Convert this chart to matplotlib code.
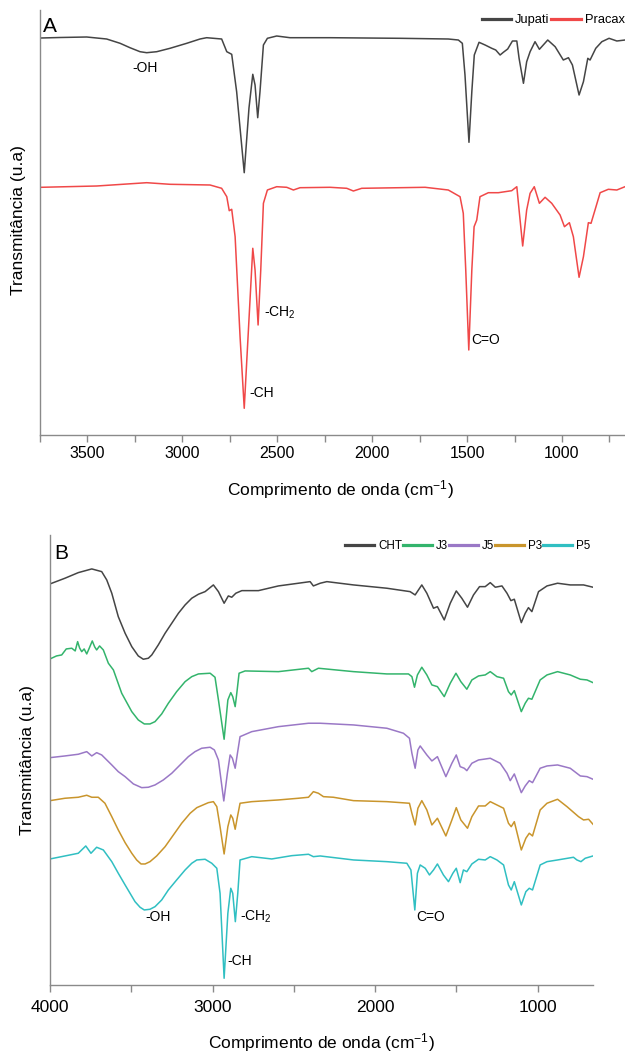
import matplotlib
matplotlib.use("Agg")
import matplotlib.pyplot as plt
from matplotlib.ticker import MultipleLocator

plt.rcParams['font.family'] = ['Liberation Sans', 'DejaVu Sans']
plt.rcParams['mathtext.fontset'] = 'custom'
plt.rcParams['mathtext.rm'] = 'Liberation Sans'
plt.rcParams['mathtext.it'] = 'Liberation Sans'

# ---- panel A: Jupati / Pracax (wavenumber, transmittance a.u.) ----
jupati_wn = [3745, 3645, 3504, 3399, 3328, 3276, 3223, 3188, 3135, 3065, 2977, 2907, 2872,
             2793, 2766, 2740, 2714, 2674, 2649, 2629, 2617, 2603, 2591, 2573, 2552, 2503,
             2433, 2222, 1853, 1599, 1546, 1525, 1511, 1490, 1475, 1462, 1437, 1405, 1370,
             1349, 1326, 1309, 1286, 1261, 1238, 1226, 1203, 1186, 1168, 1142, 1119, 1075,
             1036, 993, 966, 945, 910, 887, 864, 852, 822, 790, 752, 711, 668]
jupati_t = [397, 397.5, 398, 396, 391.7, 387.3, 383.3, 382.3, 383.3, 386.7, 391.7, 396, 397.3,
            396, 383.3, 380.7, 343.3, 262.3, 327, 360.7, 350, 317.3, 343.3, 390, 396.7, 399,
            397.3, 397.3, 396.7, 396, 395, 391.7, 360, 292.7, 343.3, 380, 392.7, 390, 386.7,
            385, 380, 382.7, 386, 394, 394, 376.7, 351.7, 373.3, 383.3, 393.3, 385.7, 395,
            388.3, 375, 377.3, 370, 340, 353.3, 376.7, 375, 386.7, 393.3, 396.7, 394, 395]

pracax_wn = [3745, 3451, 3188, 3065, 2854, 2793, 2766, 2753, 2740, 2722, 2696, 2674, 2652,
             2629, 2617, 2601, 2587, 2573, 2552, 2503, 2450, 2415, 2380, 2222, 2134, 2099,
             2055, 1721, 1599, 1537, 1520, 1507, 1491, 1475, 1463, 1449, 1432, 1388, 1335,
             1265, 1238, 1226, 1207, 1186, 1168, 1146, 1119, 1089, 1054, 1010, 987, 961, 940,
             910, 887, 861, 847, 826, 799, 756, 711, 668]
pracax_t = [247.7, 249, 252.3, 250.7, 250, 246.7, 238.3, 224.3, 225.7, 198.3, 98.3, 26.7, 105,
            186.7, 165, 110, 165, 231.7, 245, 248.3, 247.7, 245, 247.3, 247.7, 246.7, 244,
            246.7, 247.7, 245, 238.3, 221.7, 165, 85, 165, 208.3, 215, 238.3, 242.3, 242.3,
            244.3, 248.3, 225, 189, 225, 241.7, 248.3, 231.7, 237.7, 231.7, 220, 208.3, 212.3,
            198.3, 157.7, 178.3, 212.3, 211.7, 225, 242.3, 245.7, 245, 248.3]

# ---- panel B: CHT / J3 / J5 / P3 / P5 ----
cht_wn = [4000, 3908, 3826, 3743, 3682, 3651, 3620, 3580, 3538, 3497, 3457, 3426, 3395, 3374,
          3334, 3292, 3251, 3210, 3169, 3128, 3087, 3046, 2995, 2964, 2929, 2903, 2882, 2857,
          2820, 2718, 2595, 2472, 2400, 2380, 2338, 2297, 2133, 1928, 1785, 1754, 1713, 1682,
          1641, 1617, 1575, 1538, 1501, 1467, 1432, 1395, 1358, 1323, 1292, 1261, 1220, 1189,
          1165, 1144, 1101, 1077, 1057, 1036, 995, 943, 878, 800, 718, 660]
cht_t = [401, 406.7, 412.3, 416, 413.3, 405, 391.7, 368.3, 351.7, 338.3, 329, 325.7, 326.7,
         330, 340, 351.7, 361.7, 371.7, 380, 386.7, 390.7, 393.3, 400, 393.3, 381.7, 389,
         387.7, 391.7, 394.3, 394.3, 399, 401.7, 403.3, 399, 401.7, 403.3, 400, 396.7, 393.3,
         390, 400, 391.7, 376.7, 378.3, 365, 381.7, 394, 386.7, 377.7, 390, 398.3, 398.3,
         402.3, 397.7, 399, 391.7, 384.3, 385.7, 362.3, 371.7, 377.3, 373.3, 393.3, 399,
         401.7, 400, 400, 397.7]

j3_wn = [4000, 3960, 3928, 3900, 3866, 3845, 3830, 3818, 3805, 3790, 3774, 3758, 3740, 3725,
         3713, 3695, 3672, 3641, 3610, 3559, 3497, 3457, 3420, 3385, 3354, 3313, 3272, 3221,
         3169, 3128, 3087, 3015, 2985, 2964, 2929, 2906, 2888, 2876, 2861, 2851, 2837, 2800,
         2595, 2410, 2390, 2349, 2133, 1928, 1795, 1774, 1758, 1740, 1713, 1682, 1651, 1617,
         1575, 1538, 1503, 1473, 1436, 1405, 1364, 1323, 1292, 1251, 1210, 1180, 1163, 1144,
         1101, 1077, 1057, 1036, 985, 943, 878, 800, 738, 697, 660]
j3_t = [326, 329, 330, 336, 336.7, 334, 343.3, 337, 333.3, 336, 331, 337, 344, 338,
        335, 339, 335, 321.7, 315, 291.7, 273.3, 265, 261, 261, 263.3, 271, 281.7, 293.3,
        303.3, 308.3, 311, 311.7, 307.7, 285, 245.7, 285, 292.3, 288.3, 278.3, 291.7, 311.7,
        314, 313.3, 316.7, 313.3, 316.7, 313.3, 311, 311, 308.3, 297.7, 310, 317.7, 310, 300,
        298.3, 288.3, 301.7, 311.7, 303.3, 295.7, 305, 309, 310, 313.3, 308.3, 306.7, 293.3,
        290, 294.3, 273.3, 281.7, 286.7, 285.7, 305, 310, 313.3, 310, 305.7, 305, 302.3]

j5_wn = [4000, 3908, 3826, 3774, 3743, 3713, 3682, 3620, 3580, 3538, 3487, 3436, 3395, 3354,
         3303, 3251, 3200, 3149, 3108, 3067, 3015, 2989, 2964, 2931, 2909, 2892, 2878, 2861,
         2847, 2831, 2759, 2595, 2410, 2338, 2133, 1928, 1826, 1789, 1774, 1754, 1737, 1723,
         1682, 1651, 1617, 1565, 1528, 1501, 1477, 1452, 1436, 1405, 1364, 1333, 1292, 1231,
         1189, 1169, 1144, 1101, 1077, 1052, 1032, 985, 943, 878, 800, 738, 697, 660]
j5_t = [227.3, 229, 230.7, 233.3, 229, 232.3, 230, 220, 213.3, 208.3, 201, 197.3, 197.7, 200,
        205, 211.7, 220, 228.3, 233.3, 236.7, 237.7, 235, 225, 184, 211.7, 230, 226.7, 216.7,
        231.7, 248.3, 253.3, 258.3, 261.7, 261.7, 260, 256.7, 251.7, 246.7, 231.7, 216.7,
        235, 239, 230, 224, 228.3, 208.3, 221.7, 230, 218.3, 216.7, 214.3, 221.7, 225, 225.7,
        226.7, 221.7, 211.7, 204.3, 211, 192.3, 199, 204.3, 202.3, 216.7, 219, 220, 216.7,
        209, 208.3, 205.7]

p3_wn = [4000, 3908, 3826, 3774, 3743, 3703, 3662, 3620, 3580, 3538, 3497, 3467, 3440, 3415,
         3385, 3344, 3292, 3241, 3190, 3138, 3097, 3026, 2995, 2974, 2954, 2929, 2906, 2888,
         2876, 2861, 2847, 2831, 2759, 2595, 2472, 2410, 2380, 2349, 2318, 2257, 2133, 1928,
         1789, 1774, 1754, 1737, 1713, 1682, 1651, 1617, 1565, 1528, 1501, 1473, 1432, 1405,
         1364, 1323, 1292, 1251, 1210, 1180, 1163, 1144, 1101, 1073, 1052, 1032, 985, 943,
         878, 820, 749, 718, 687, 660]
p3_t = [184.3, 186.7, 187.7, 189.7, 187.7, 187.7, 181.7, 168.3, 155, 142.3, 131.7, 125, 121,
        121, 123.3, 129, 138.3, 150, 161.7, 171.7, 177.3, 182.3, 183.3, 178.3, 158.3, 131,
        158.3, 170, 166.7, 155.7, 168.3, 181.7, 183.3, 185, 186.7, 187.7, 193.3, 191.7, 188.3,
        187.7, 184.3, 183.3, 181.7, 171.7, 160, 176.7, 184.3, 175, 160, 166.7, 149, 165,
        177.3, 165, 156.7, 168.3, 179, 179, 183.3, 180, 176.7, 161.7, 158.3, 163.3, 135,
        146.7, 151.7, 149, 175, 181.7, 185.7, 178.3, 168.3, 165, 165.7, 160.7]

p5_wn = [4000, 3908, 3826, 3780, 3748, 3713, 3672, 3620, 3580, 3538, 3477, 3446, 3420, 3385,
         3354, 3313, 3272, 3221, 3169, 3128, 3097, 3046, 3005, 2974, 2954, 2929, 2906, 2888,
         2876, 2860, 2845, 2831, 2759, 2636, 2513, 2410, 2380, 2338, 2133, 1928, 1805, 1780,
         1756, 1740, 1723, 1692, 1666, 1641, 1617, 1580, 1549, 1522, 1501, 1477, 1457, 1436,
         1405, 1364, 1323, 1292, 1251, 1210, 1180, 1163, 1144, 1101, 1073, 1052, 1032, 985,
         943, 878, 780, 759, 734, 708, 660]
p5_t = [126, 129, 131.7, 139, 131.7, 137.7, 135, 123.3, 111.7, 100, 83.3, 77.7, 75, 75.7,
        78.3, 85, 95, 105, 115, 121.7, 125, 125.7, 121.7, 116.7, 91.7, 6.7, 71.7, 96.7, 91.7,
        63.3, 91.7, 125, 128.3, 126, 129.3, 130.7, 128.3, 129, 125, 123.3, 121.7, 115, 75,
        111.7, 120, 116.7, 110, 115, 121, 110, 103.3, 111.7, 116.7, 102.3, 115, 113.3, 121,
        125.7, 125, 128.3, 125, 120, 100, 95, 103.3, 80, 93.3, 96.7, 95, 120, 123.3, 125,
        127.7, 125, 123.3, 126.7, 129]

gray = "#454545"
red = "#f04848"
green = "#33b46c"
purple = "#9a78c6"
gold = "#c9952c"
cyan = "#30bfc2"
spine_col = "#8a8a8a"

xlabel = r"Comprimento de onda (cm$^{\mathregular{-1}}$)"

fig = plt.figure(figsize=(6.25, 10.53), dpi=100)
axA = fig.add_axes([0.064, 0.5869, 0.936, 0.4036])
axB = fig.add_axes([0.08, 0.0646, 0.8688, 0.4274])


def style(ax, fs_tick):
    for s in ("top", "right"):
        ax.spines[s].set_visible(False)
    for s in ("left", "bottom"):
        ax.spines[s].set_color(spine_col)
        ax.spines[s].set_linewidth(1.0)
    ax.set_yticks([])
    ax.xaxis.set_major_locator(MultipleLocator(500))
    ax.tick_params(axis="x", which="both", direction="out", length=5, width=1,
                   color=spine_col, labelsize=fs_tick)


# panel A
axA.plot(jupati_wn, jupati_t, color=gray, lw=1.1, label="Jupati")
axA.plot(pracax_wn, pracax_t, color=red, lw=1.1, label="Pracax")
axA.set_xlim(3750, 668)
axA.set_ylim(0, 425)
style(axA, 11.5)
axA.xaxis.set_minor_locator(MultipleLocator(250))
axA.tick_params(axis="x", which="major", pad=3)
axA.set_xlabel(xlabel, fontsize=12.5)
axA.xaxis.set_label_coords(0.513, -0.129)
axA.xaxis.label.set_va("center")
axA.set_ylabel("Transmitância (u.a)", fontsize=12.5)
axA.yaxis.set_label_coords(-0.037, 0.506)
axA.yaxis.label.set_va("center")
axA.text(0.005, 0.984, "A", transform=axA.transAxes, fontsize=15, ha="left", va="top")
axA.legend(loc="center right", bbox_to_anchor=(1.0, 0.976), ncol=2, frameon=False,
           fontsize=9.3, handlelength=2.3, handletextpad=0.3, columnspacing=0.15,
           borderpad=0, borderaxespad=0)
for lh in axA.get_legend().get_lines():
    lh.set_linewidth(2.3)
axA.text(3197, 367, "-OH", fontsize=10, ha="center", va="center")
axA.text(2570, 122, r"-CH$_{\mathregular{2}}$", fontsize=10, ha="left", va="center")
axA.text(2649, 42, "-CH", fontsize=10, ha="left", va="center")
axA.text(1479, 95, "C=O", fontsize=10, ha="left", va="center")

# panel B
axB.plot(cht_wn, cht_t, color=gray, lw=1.1, label="CHT")
axB.plot(j3_wn, j3_t, color=green, lw=1.1, label="J3")
axB.plot(j5_wn, j5_t, color=purple, lw=1.1, label="J5")
axB.plot(p3_wn, p3_t, color=gold, lw=1.1, label="P3")
axB.plot(p5_wn, p5_t, color=cyan, lw=1.1, label="P5")
axB.set_xlim(4000, 660)
axB.set_ylim(0, 450)
style(axB, 12.5)
axB.xaxis.set_minor_locator(MultipleLocator(500))
axB.xaxis.set_major_locator(MultipleLocator(1000))
axB.tick_params(axis="x", which="major", pad=6)
axB.set_xlabel(xlabel, fontsize=12.5)
axB.xaxis.set_label_coords(0.499, -0.127)
axB.xaxis.label.set_va("center")
axB.set_ylabel("Transmitância (u.a)", fontsize=12.5)
axB.yaxis.set_label_coords(-0.041, 0.5)
axB.yaxis.label.set_va("center")
axB.text(0.008, 0.98, "B", transform=axB.transAxes, fontsize=15, ha="left", va="top")
axB.legend(loc="center right", bbox_to_anchor=(0.9945, 0.9756), ncol=5, frameon=False,
           fontsize=8.4, handlelength=2.5, handletextpad=0.3, columnspacing=0.1,
           borderpad=0, borderaxespad=0)
for lh in axB.get_legend().get_lines():
    lh.set_linewidth(2.3)
axB.text(3415, 68, "-OH", fontsize=10, ha="left", va="center")
axB.text(2831, 68, r"-CH$_{\mathregular{2}}$", fontsize=10, ha="left", va="center")
axB.text(2906, 24, "-CH", fontsize=10, ha="left", va="center")
axB.text(1748, 68, "C=O", fontsize=10, ha="left", va="center")

fig.savefig("out.png", dpi=100)
